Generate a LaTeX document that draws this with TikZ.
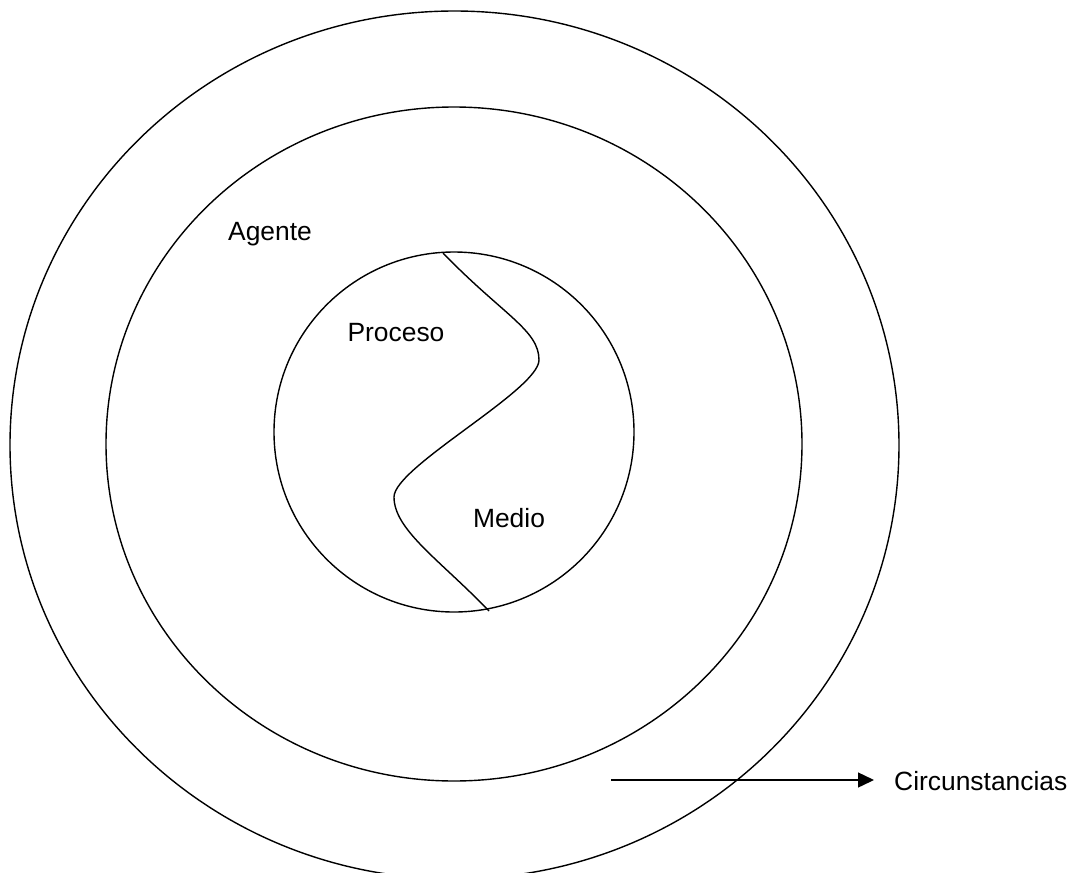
\documentclass[tikz,border=0pt]{standalone}
\usepackage{fontspec}
\setmainfont{Liberation Sans}
\usetikzlibrary{arrows.meta,shapes.geometric}
\begin{document}
\begin{tikzpicture}[x=1pt,y=-1pt,
  ring/.style={draw,ellipse,line width=1.4pt,inner sep=0pt},
  lbl/.style={inner sep=0pt,font=\fontsize{26.4}{30}\selectfont},
  line/.style={line width=1.4pt}]
\useasboundingbox (0,0) rectangle (1072,873);
\node[ring,minimum width=889pt,minimum height=868pt] (outer) at (454.5,445) {};
\node[ring,minimum width=696pt,minimum height=674pt] (middle) at (454,444) {};
\node[ring,minimum width=360pt,minimum height=360pt] (inner) at (454,432) {};
\coordinate (s0) at (443,253);
\coordinate (s1) at (539,360);
\coordinate (s2) at (394,497);
\coordinate (s3) at (489,611);
\draw[line] (s0) .. controls (503,315) and (539,330) .. (s1)
  .. controls (539,390) and (394,467) .. (s2)
  .. controls (394,530) and (440,560) .. (s3);
\node[lbl] (agente) at (270,234) {Agente};
\node[lbl] (proceso) at (396,333) {Proceso};
\node[lbl] (medio) at (509,518) {Medio};
\node[lbl,anchor=west] (circ) at (894,781) {Circunstancias};
\coordinate (a0) at (611,780);
\draw[line,-{Triangle[length=16pt,width=15pt]}] (a0) -- (874,780);
\end{tikzpicture}
\end{document}
